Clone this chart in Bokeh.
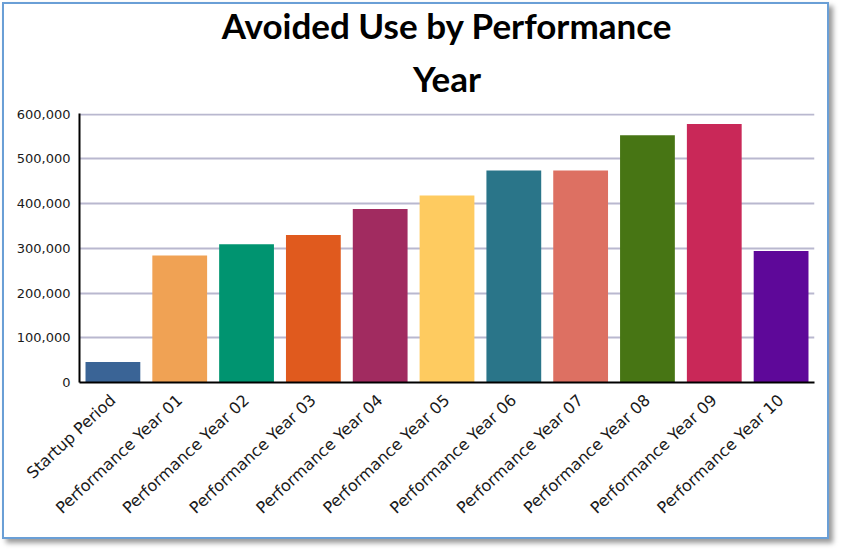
import math
from bokeh.plotting import figure
from bokeh.models import ColumnDataSource, NumeralTickFormatter, FixedTicker, Range1d, Title
from bokeh.embed import file_html
from bokeh.resources import INLINE

categories = ["Startup Period", "Performance Year 01", "Performance Year 02",
              "Performance Year 03", "Performance Year 04", "Performance Year 05",
              "Performance Year 06", "Performance Year 07", "Performance Year 08",
              "Performance Year 09", "Performance Year 10"]
values = [46000, 284000, 309000, 330000, 388000, 418000, 474000, 474000, 553000, 578000, 294000]
colors = ["#3a6496", "#f0a254", "#009470", "#e05a1e", "#a12b60", "#fecb60",
          "#2a7589", "#dd7062", "#477514", "#c92858", "#5e0899"]
y_ticks = [0, 100000, 200000, 300000, 400000, 500000, 600000]
title_lines = ["Avoided Use by Performance", "Year"]

source = ColumnDataSource(dict(cat=categories, val=values, color=colors))

p = figure(x_range=categories, y_range=Range1d(0, 601500),
           width=827, height=537, output_backend="svg", toolbar_location=None,
           min_border_left=75, min_border_right=17, min_border_top=109, min_border_bottom=159)

p.vbar(x="cat", top="val", width=0.82, color="color", line_color=None, source=source)

# title lines: later-added titles sit farther from the plot
for i, line in enumerate(reversed(title_lines)):
    t = Title(text=line, align="center", text_font="Lato", text_font_style="bold",
              text_font_size="35px", text_color="#000000",
              standoff=30 if i == 0 else -13)
    p.add_layout(t, "above")

p.outline_line_color = None
p.xgrid.grid_line_color = None
p.ygrid.grid_line_color = "#b9b8cf"
p.ygrid.grid_line_width = 2
p.yaxis.ticker = FixedTicker(ticks=y_ticks)
p.yaxis.formatter = NumeralTickFormatter(format="0,0")

for ax in (p.xaxis[0], p.yaxis[0]):
    ax.axis_line_color = "#000000"
    ax.axis_line_width = 2
    ax.major_tick_line_color = None
    ax.minor_tick_line_color = None
    ax.major_tick_out = 0
    ax.major_tick_in = 0
    ax.major_label_text_font = "DejaVu Sans"
    ax.major_label_text_color = "#1a1a1a"

p.yaxis.major_label_text_font_size = "13px"
p.xaxis.major_label_text_font_size = "16px"
p.yaxis.major_label_standoff = 9
p.xaxis.major_label_standoff = 15
p.xaxis.major_label_orientation = 0.75

p.styles = {"border": "2px solid #6a9fd6", "box-shadow": "4px 4px 5px #9a9a9a",
            "margin-left": "2px", "margin-top": "2px"}

open("out.html", "w").write(file_html(p, INLINE))
